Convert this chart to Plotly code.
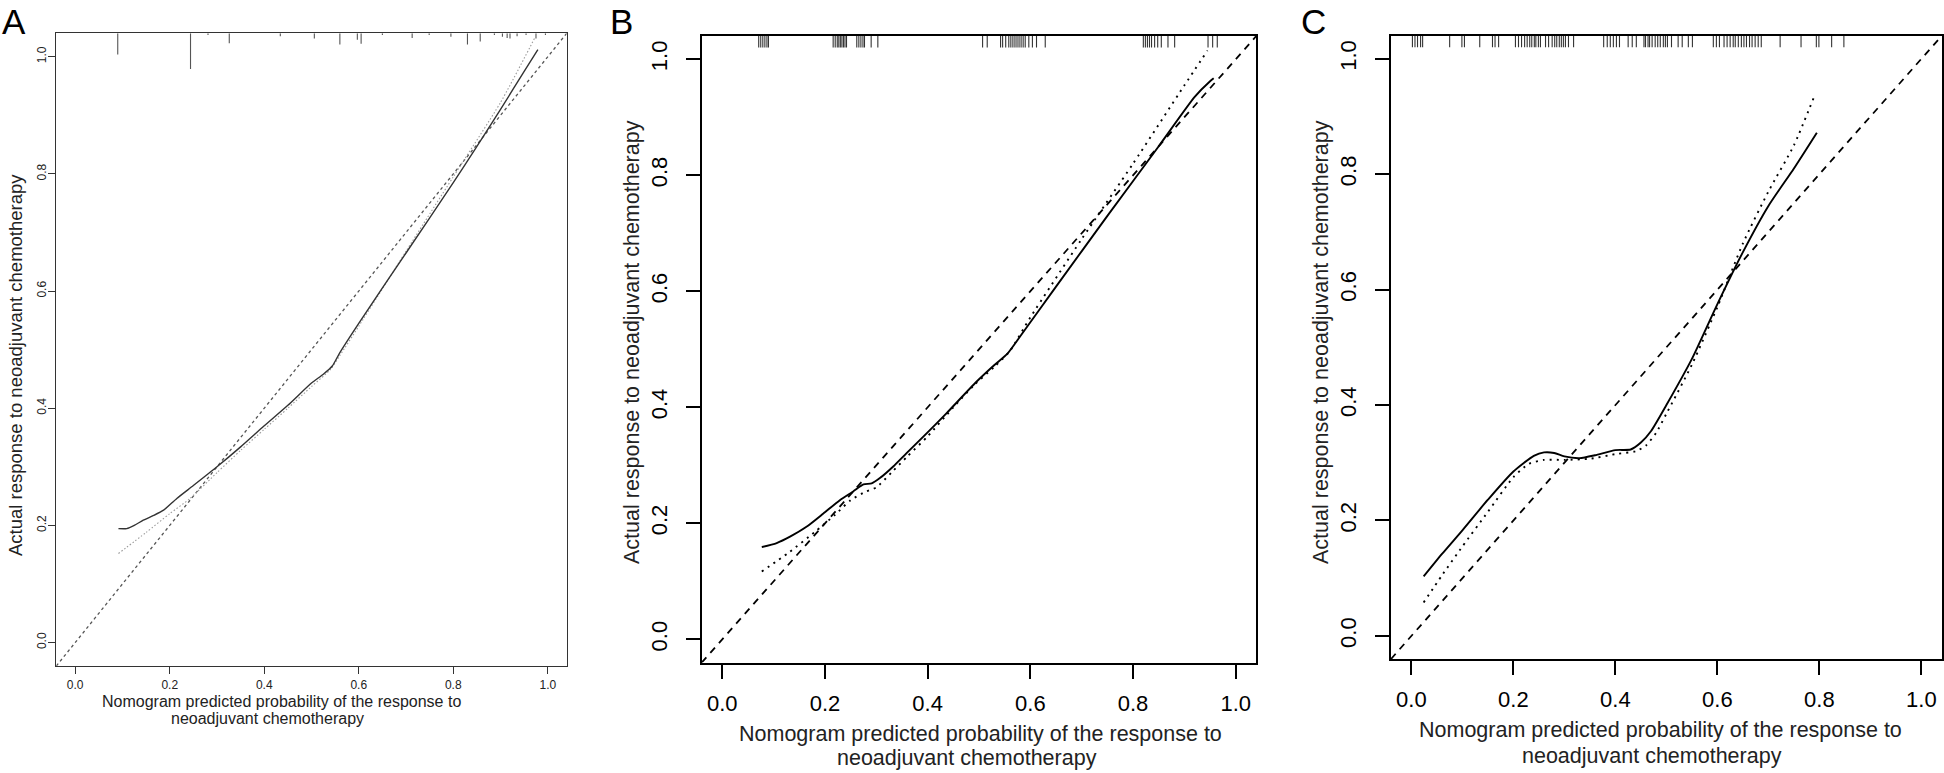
import plotly.graph_objects as go

W, H = 1944, 773

# ---------------- data ----------------
axis_range = [-0.04, 1.04]
tick_vals = [0.0, 0.2, 0.4, 0.6, 0.8, 1.0]
tick_text = ["0.0", "0.2", "0.4", "0.6", "0.8", "1.0"]

x_title_1 = "Nomogram predicted probability of the response to"
x_title_2 = "neoadjuvant chemotherapy"
y_title = "Actual response to neoadjuvant chemotherapy"
panel_labels = ["A", "B", "C"]

# Panel A
A_solid_x = [0.0915, 0.109, 0.125, 0.144, 0.166, 0.187, 0.215, 0.25, 0.30, 0.35, 0.40, 0.45, 0.50, 0.525, 0.544,
             0.56, 0.60, 0.70, 0.80, 0.85, 0.90, 0.95, 0.979]
A_solid_y = [0.1945, 0.1945, 0.200, 0.209, 0.217, 0.226, 0.246, 0.268, 0.300, 0.334, 0.370, 0.405, 0.443, 0.458,
             0.472, 0.495, 0.545, 0.665, 0.785, 0.847, 0.910, 0.975, 1.012]
A_dot_x = [0.0915, 0.15, 0.20, 0.243, 0.30, 0.35, 0.40, 0.45, 0.50, 0.54, 0.56, 0.60, 0.70, 0.80, 0.90, 0.973]
A_dot_y = [0.152, 0.188, 0.220, 0.246, 0.290, 0.328, 0.364, 0.400, 0.437, 0.466, 0.490, 0.540, 0.668, 0.795,
           0.922, 1.033]
A_rug_x = [0.090, 0.244, 0.281, 0.326, 0.434, 0.506, 0.560, 0.597, 0.605, 0.650, 0.713, 0.749, 0.795, 0.830,
           0.857, 0.887, 0.904, 0.914, 0.920, 0.935, 0.954, 0.975, 0.995]
A_rug_len = [0.036, 0.061, 0.003, 0.017, 0.005, 0.009, 0.019, 0.011, 0.018, 0.003, 0.008, 0.003, 0.006, 0.019,
             0.014, 0.003, 0.006, 0.008, 0.009, 0.005, 0.003, 0.009, 0.003]

# Panel B
B_solid_x = [0.077, 0.106, 0.132, 0.164, 0.197, 0.229, 0.255, 0.275, 0.291, 0.307, 0.333, 0.359, 0.398, 0.437,
             0.495, 0.530, 0.555, 0.580, 0.650, 0.750, 0.850, 0.920, 0.950, 0.957]
B_solid_y = [0.159, 0.166, 0.177, 0.194, 0.217, 0.240, 0.255, 0.267, 0.269, 0.278, 0.298, 0.321, 0.355, 0.390,
             0.444, 0.473, 0.492, 0.522, 0.608, 0.730, 0.850, 0.935, 0.962, 0.967]
B_dot_x = [0.077, 0.13, 0.18, 0.22, 0.25, 0.28, 0.30, 0.33, 0.36, 0.40, 0.45, 0.49, 0.53, 0.56, 0.60, 0.70, 0.80,
           0.90, 0.945]
B_dot_y = [0.117, 0.150, 0.185, 0.215, 0.240, 0.255, 0.262, 0.288, 0.315, 0.350, 0.400, 0.438, 0.470, 0.497,
           0.555, 0.690, 0.820, 0.955, 1.015]
B_rug_x = [0.071, 0.075, 0.079, 0.083, 0.087, 0.090,
           0.216, 0.220, 0.224, 0.227, 0.230, 0.233, 0.236, 0.239, 0.242,
           0.262, 0.266, 0.270, 0.274, 0.277, 0.290, 0.303,
           0.507, 0.516, 0.542, 0.546, 0.552, 0.558, 0.562, 0.566, 0.570, 0.574, 0.578, 0.582, 0.586, 0.590,
           0.597, 0.604, 0.612, 0.629,
           0.820, 0.824, 0.828, 0.832, 0.836, 0.842, 0.848, 0.855, 0.868, 0.881,
           0.946, 0.955, 0.964]

# Panel C
C_solid_x = [0.024, 0.06, 0.10, 0.15, 0.20, 0.24, 0.26, 0.28, 0.30, 0.33, 0.36, 0.40, 0.43, 0.45, 0.47, 0.50,
             0.55, 0.60, 0.65, 0.70, 0.75, 0.795]
C_solid_y = [0.103, 0.142, 0.183, 0.236, 0.285, 0.312, 0.318, 0.317, 0.311, 0.308, 0.313, 0.322, 0.323, 0.335,
             0.355, 0.400, 0.480, 0.575, 0.665, 0.745, 0.810, 0.872]
C_dot_x = [0.024, 0.06, 0.10, 0.15, 0.20, 0.23, 0.26, 0.30, 0.35, 0.40, 0.44, 0.46, 0.48, 0.50, 0.55, 0.60, 0.65,
           0.70, 0.75, 0.79]
C_dot_y = [0.058, 0.105, 0.155, 0.215, 0.275, 0.298, 0.305, 0.305, 0.307, 0.315, 0.320, 0.330, 0.352, 0.385,
           0.470, 0.570, 0.680, 0.770, 0.850, 0.935]
C_rug_x = [0.002, 0.007, 0.012, 0.018, 0.022, 0.075, 0.099, 0.104, 0.134, 0.159, 0.164, 0.171,
           0.204, 0.210, 0.216, 0.222, 0.227, 0.232, 0.236, 0.241, 0.244, 0.249, 0.253,
           0.263, 0.269, 0.276, 0.281, 0.285, 0.290, 0.294, 0.298, 0.302, 0.308, 0.318,
           0.377, 0.384, 0.390, 0.396, 0.402, 0.408, 0.425, 0.433, 0.441,
           0.456, 0.459, 0.464, 0.467, 0.472, 0.478, 0.483, 0.488, 0.494, 0.498, 0.502, 0.510,
           0.523, 0.531, 0.543, 0.551,
           0.592, 0.598, 0.604, 0.613, 0.619, 0.625, 0.631, 0.635, 0.641, 0.647, 0.652, 0.657,
           0.663, 0.668, 0.674, 0.680, 0.686,
           0.723, 0.764, 0.794, 0.799, 0.824, 0.848]

# ---------------- styling ----------------
FONT = "Liberation Sans, Arial, Helvetica, sans-serif"
RUG_LEN_BC = 0.02


def px_x(p):
    return p / W


def px_y(p):
    return 1 - p / H


def rug(xs, lens, top):
    rx, ry = [], []
    for xv, lv in zip(xs, lens):
        rx += [xv, xv, None]
        ry += [top, top - lv, None]
    return rx, ry


fig = go.Figure()

panels = [
    dict(ax="", sx=A_solid_x, sy=A_solid_y, dx=A_dot_x, dy=A_dot_y, rx=A_rug_x, rl=A_rug_len,
         dom_x=[56.3, 566.7], dom_y=[666, 33.3], small=True, xso=0, yso=-3),
    dict(ax="2", sx=B_solid_x, sy=B_solid_y, dx=B_dot_x, dy=B_dot_y, rx=B_rug_x,
         rl=[RUG_LEN_BC] * len(B_rug_x), dom_x=[701.7, 1256.3], dom_y=[662.6, 36], small=False, xso=6, yso=10),
    dict(ax="3", sx=C_solid_x, sy=C_solid_y, dx=C_dot_x, dy=C_dot_y, rx=C_rug_x,
         rl=[RUG_LEN_BC] * len(C_rug_x), dom_x=[1391, 1941.8], dom_y=[659, 35.7], small=False, xso=6, yso=10),
]

layout_axes = {}
for p in panels:
    xa = "x" + p["ax"]
    ya = "y" + p["ax"]
    small = p["small"]
    ideal_col = "#555555" if small else "black"
    solid_col = "#333333" if small else "black"
    dot_col = "#9a9a9a" if small else "black"
    rug_col = "#555555" if small else "#333333"
    # ideal line
    fig.add_trace(go.Scatter(x=axis_range, y=axis_range, xaxis=xa, yaxis=ya, mode="lines",
                             line=dict(color=ideal_col, width=1.3 if small else 1.8,
                                       dash="3px,3px" if small else "7px,6px"),
                             hoverinfo="skip", showlegend=False))
    # apparent (dotted)
    fig.add_trace(go.Scatter(x=p["dx"], y=p["dy"], xaxis=xa, yaxis=ya, mode="lines",
                             line=dict(color=dot_col, width=1.1 if small else 1.9,
                                       dash="1.5px,2px" if small else "2px,5px", shape="spline", smoothing=0.6),
                             hoverinfo="skip", showlegend=False))
    # bias-corrected (solid)
    fig.add_trace(go.Scatter(x=p["sx"], y=p["sy"], xaxis=xa, yaxis=ya, mode="lines",
                             line=dict(color=solid_col, width=1.4 if small else 1.9, shape="spline", smoothing=0.6),
                             hoverinfo="skip", showlegend=False))
    # rug
    rx, ry = rug(p["rx"], p["rl"], axis_range[1])
    fig.add_trace(go.Scatter(x=rx, y=ry, xaxis=xa, yaxis=ya, mode="lines",
                             line=dict(color=rug_col, width=1.1),
                             hoverinfo="skip", showlegend=False))

    tick_font = dict(family=FONT, size=12 if small else 22, color="#222222" if small else "black")
    common = dict(range=axis_range, tickvals=tick_vals, ticktext=tick_text, showgrid=False, zeroline=False,
                  showline=True, mirror=True, linecolor="#333333" if small else "black",
                  linewidth=1.3 if small else 1.8, ticks="outside", ticklen=7 if small else 14,
                  tickwidth=1.2 if small else 1.8, tickcolor="#333333" if small else "black",
                  tickfont=tick_font)
    layout_axes["xaxis" + p["ax"]] = dict(common, domain=[px_x(p["dom_x"][0]), px_x(p["dom_x"][1])],
                                          anchor=ya, ticklabelstandoff=p["xso"])
    layout_axes["yaxis" + p["ax"]] = dict(common, domain=[px_y(p["dom_y"][0]), px_y(p["dom_y"][1])],
                                          anchor=xa, tickangle=-90, ticklabelstandoff=p["yso"])

annotations = []
# panel letters
for lbl, cx in zip(panel_labels, [13.5, 621, 1313.5]):
    annotations.append(dict(text=lbl, x=px_x(cx), y=1.0, xref="paper", yref="paper",
                            xanchor="center", yanchor="top", showarrow=False,
                            font=dict(family=FONT, size=35, color="black")))

# x titles (two lines each)
xt = [
    (281, 701, 267, 718, 16),
    (980.6, 733.5, 967, 758, 21.5),
    (1660, 730, 1652, 756, 21.5),
]
for (x1, y1, x2, y2, fs) in xt:
    annotations.append(dict(text=x_title_1, x=px_x(x1), y=px_y(y1), xref="paper", yref="paper",
                            xanchor="center", yanchor="middle", showarrow=False,
                            font=dict(family=FONT, size=fs, color="#222222")))
    annotations.append(dict(text=x_title_2, x=px_x(x2), y=px_y(y2), xref="paper", yref="paper",
                            xanchor="center", yanchor="middle", showarrow=False,
                            font=dict(family=FONT, size=fs, color="#222222")))

# y titles
for (cx, cy, fs) in [(15, 365, 18.5), (632, 342, 21.5), (1321, 342, 21.5)]:
    annotations.append(dict(text=y_title, x=px_x(cx), y=px_y(cy), xref="paper", yref="paper",
                            xanchor="center", yanchor="middle", textangle=-90, showarrow=False,
                            font=dict(family=FONT, size=fs, color="#222222")))

fig.update_layout(width=W, height=H, margin=dict(l=0, r=0, t=0, b=0), paper_bgcolor="white",
                  plot_bgcolor="white", showlegend=False, annotations=annotations, **layout_axes)

fig.write_html("out.html", config={"displayModeBar": False},
               post_script="document.body.style.margin='0px';document.body.style.overflow='hidden';")
